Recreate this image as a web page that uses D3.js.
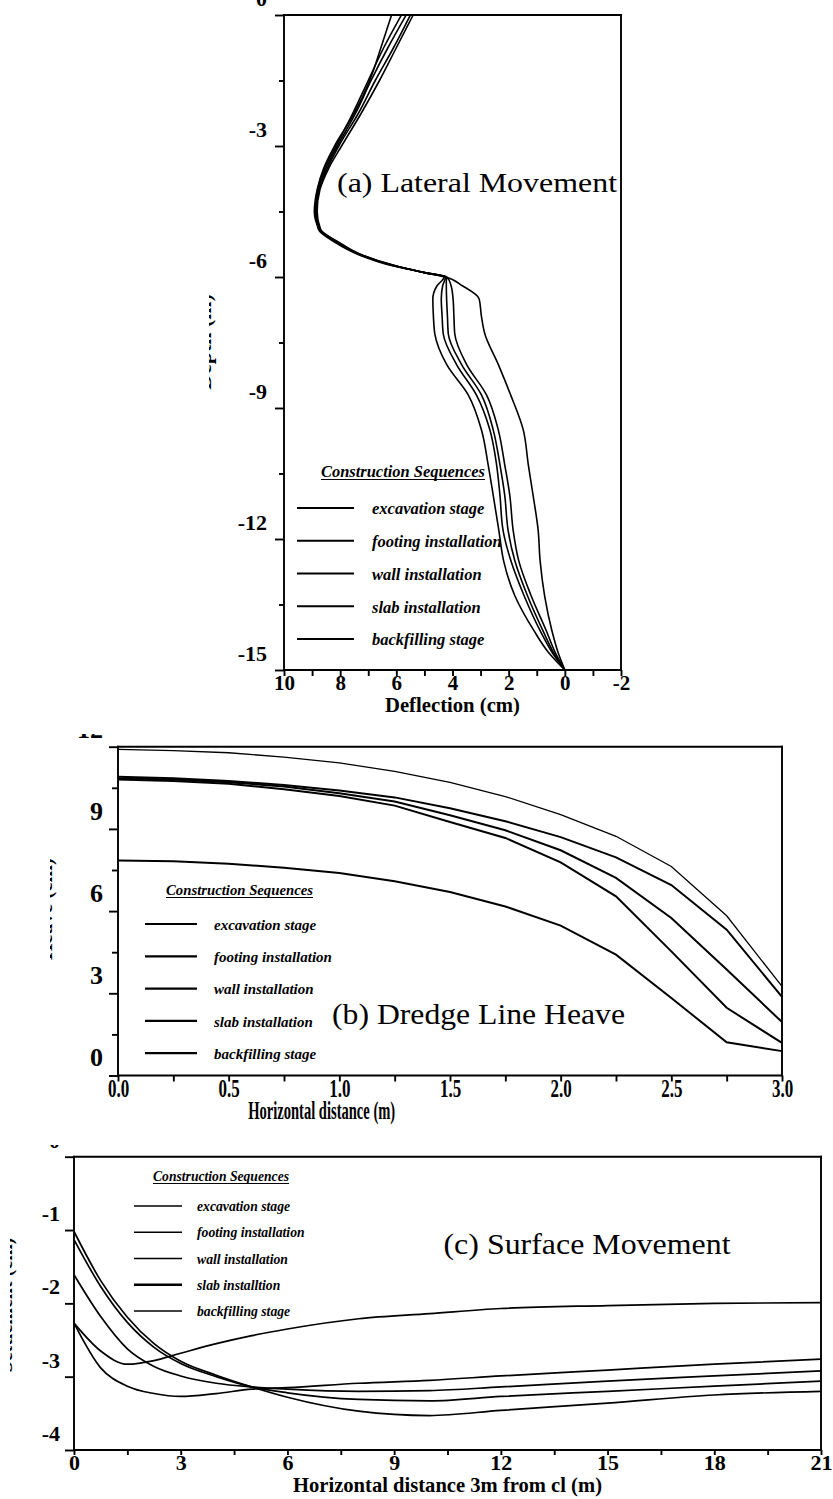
<!DOCTYPE html>
<html><head><meta charset="utf-8">
<script src="https://cdn.jsdelivr.net/npm/d3@7"></script>
<style>
body{margin:0;background:#fff}
svg{display:block}
text{font-family:"Liberation Serif","Times New Roman",Times,serif;fill:#000}
</style>
</head><body>
<svg id="chart" width="833" height="1499"></svg>
<script>
// ---------------- DATA ----------------
const stageNames = ["excavation stage","footing installation","wall installation","slab installation","backfilling stage"];
const stageNamesC = ["excavation stage","footing installation","wall installation","slab installtion","backfilling stage"];

// (a) Lateral movement: depth (m) vs deflection (cm)
const depthA = [0,-0.75,-1.5,-2.25,-3,-3.5,-4,-4.5,-4.9,-5.2,-5.5,-5.75,-5.9,-6.0,-6.2,-6.5,-6.9,-7.3,-8.0,-8.7,-9.5,-10.3,-11.0,-11.8,-12.5,-13.3,-14.1,-14.6,-15];
const latExcavation = [5.40,6.00,6.60,7.25,7.95,8.40,8.72,8.82,8.70,8.10,7.20,6.00,5.00,4.25,3.65,3.05,2.97,2.85,2.37,1.93,1.48,1.30,1.13,0.95,0.88,0.72,0.46,0.24,0];
const latFooting    = [5.50,6.10,6.75,7.35,8.05,8.45,8.75,8.85,8.75,8.15,7.25,6.05,5.00,4.25,4.35,4.40,4.37,4.33,3.86,3.15,2.67,2.43,2.31,2.20,1.92,1.45,0.88,0.45,0];
const latWall       = [5.65,6.30,6.90,7.45,8.10,8.50,8.78,8.85,8.75,8.15,7.25,6.05,5.00,4.22,4.22,4.21,4.18,4.15,3.68,2.97,2.55,2.31,2.14,2.02,1.78,1.33,0.78,0.40,0];
const latSlab       = [5.82,6.45,7.00,7.55,8.15,8.55,8.80,8.88,8.78,8.20,7.30,6.10,5.00,4.20,4.05,3.98,3.95,3.92,3.50,2.79,2.37,2.14,1.96,1.84,1.64,1.20,0.66,0.34,0];
const latBackfill   = [6.17,6.55,6.95,7.50,8.20,8.58,8.82,8.92,8.75,8.05,7.20,6.00,5.00,4.30,4.55,4.70,4.68,4.63,4.21,3.44,2.97,2.73,2.55,2.35,2.18,1.78,1.10,0.58,0];
const xTicksA = [10,9,8,7,6,5,4,3,2,1,0,-1,-2];
const xLabelsA = [10,8,6,4,2,0,-2];
const yTicksA = [0,-1.5,-3,-4.5,-6,-7.5,-9,-10.5,-12,-13.5,-15];
const yLabelsA = [0,-3,-6,-9,-12,-15];

// (b) Dredge line heave: heave vs horizontal distance (m)
const distB = [0,0.25,0.5,0.75,1.0,1.25,1.5,1.75,2.0,2.25,2.5,2.75,3.0];
const heaveTop    = [11.90,11.86,11.78,11.62,11.41,11.10,10.70,10.18,9.52,8.73,7.63,5.83,3.25];
const heave2      = [10.90,10.85,10.75,10.60,10.40,10.15,9.75,9.28,8.70,7.96,6.95,5.32,2.87];
const heave3      = [10.85,10.80,10.70,10.55,10.30,10.00,9.50,8.95,8.22,7.21,5.75,3.87,1.95];
const heave4      = [10.80,10.75,10.65,10.45,10.20,9.85,9.25,8.67,7.78,6.54,4.53,2.47,1.19];
const heaveBottom = [7.85,7.82,7.73,7.58,7.39,7.09,6.70,6.17,5.47,4.41,2.83,1.21,0.89];
const xTicksB = [0,0.25,0.5,0.75,1,1.25,1.5,1.75,2,2.25,2.5,2.75,3];
const xLabelsB = [0,0.5,1,1.5,2,2.5,3];
const yTicksB = [0,1.5,3,4.5,6,7.5,9,10.5,12];
const yLabelsB = [0,3,6,9,12];

// (c) Surface movement: settlement vs horizontal distance 3m from cl (m)
const distC = [0,0.75,1.5,2.25,3,4,5,6,8,10,12,15,18,21];
const surfP = [-2.27,-2.65,-2.83,-2.78,-2.68,-2.55,-2.44,-2.35,-2.21,-2.14,-2.07,-2.03,-2.00,-1.99];
const surfQ = [-2.27,-2.88,-3.13,-3.23,-3.27,-3.23,-3.17,-3.15,-3.09,-3.05,-2.99,-2.91,-2.83,-2.76];
const surfR = [-1.61,-2.18,-2.62,-2.86,-2.99,-3.09,-3.14,-3.17,-3.20,-3.19,-3.14,-3.06,-2.99,-2.92];
const surfS = [-1.13,-1.77,-2.26,-2.60,-2.82,-3.00,-3.14,-3.22,-3.31,-3.33,-3.27,-3.20,-3.13,-3.06];
const surfT = [-1.02,-1.69,-2.19,-2.55,-2.79,-2.98,-3.14,-3.28,-3.47,-3.53,-3.46,-3.36,-3.25,-3.20];
const xTicksC = [0,1.5,3,4.5,6,7.5,9,10.5,12,13.5,15,16.5,18,19.5,21];
const xLabelsC = [0,3,6,9,12,15,18,21];
const yTicksC = [0,-1,-2,-3,-4];
const yLabelsC = [0,-1,-2,-3,-4];

// ---------------- DRAWING ----------------
const FONT = '"Liberation Serif","Times New Roman",Times,serif';
const svg = d3.select("#chart");
const defs = svg.append("defs");
const has = (arr, d) => arr.some(v => Math.abs(v - d) < 1e-9);
const AX = 1.9;

function clipGroup(id, x, y, w, h) {
  defs.append("clipPath").attr("id", id).append("rect").attr("x", x).attr("y", y).attr("width", w).attr("height", h);
  return svg.append("g").attr("clip-path", `url(#${id})`);
}

function frame(g, x0, x1, y0, y1) {
  [[x0,y0,x1,y0],[x1,y0,x1,y1],[x0,y1,x1,y1],[x0,y0,x0,y1]].forEach(l =>
    g.append("line").attr("x1",l[0]).attr("y1",l[1]).attr("x2",l[2]).attr("y2",l[3])
      .attr("stroke","#000").attr("stroke-width",AX).attr("stroke-linecap","square"));
}

function leftAxis(g, y, x0, ticks, labels, o) {
  const a = g.append("g").attr("transform",`translate(${x0},0)`)
    .call(d3.axisLeft(y).tickValues(ticks).tickSize(o.major).tickPadding(o.pad)
      .tickFormat(d => has(labels,d) ? (o.fmt ? o.fmt(d) : String(d)) : ""));
  a.attr("font-family", null);
  a.select(".domain").remove();
  a.selectAll(".tick line").attr("x2", d => has(labels,d) ? -o.major : -o.minor).attr("stroke-width", AX);
  a.selectAll(".tick text").attr("dy", null).attr("y", o.dy)
    .style("font-family", FONT).style("font-size", o.fs + "px").style("font-weight", "bold");
  return a;
}

function bottomAxis(g, x, y0, ticks, labels, o) {
  const a = g.append("g").attr("transform",`translate(0,${y0})`)
    .call(d3.axisBottom(x).tickValues(ticks).tickSize(o.tick)
      .tickFormat(d => has(labels,d) ? (o.fmt ? o.fmt(d) : String(d)) : ""));
  a.attr("font-family", null);
  a.select(".domain").remove();
  a.selectAll(".tick line").attr("stroke-width", AX);
  a.selectAll(".tick text").attr("dy", null).attr("y", o.base)
    .attr("transform", o.sx ? `scale(${o.sx},1)` : null)
    .style("font-family", FONT).style("font-size", o.fs + "px").style("font-weight", "bold");
  return a;
}

function legend(g, names, o) {
  g.append("text").attr("x", o.tx).attr("y", o.ty)
    .attr("textLength", o.tw).attr("lengthAdjust","spacingAndGlyphs")
    .style("font-size", o.tfs + "px").style("font-weight","bold").style("font-style","italic")
    .text("Construction Sequences");
  g.append("line").attr("x1", o.tx).attr("x2", o.tx + o.tw).attr("y1", o.ty + 2.5).attr("y2", o.ty + 2.5)
    .attr("stroke","#000").attr("stroke-width",1);
  names.forEach((n, i) => {
    const ry = o.r0 + i * o.step;
    g.append("line").attr("x1", o.lx0).attr("x2", o.lx1).attr("y1", ry).attr("y2", ry)
      .attr("stroke","#000").attr("stroke-width", (o.lw && o.lw[i]) || 1.8);
    g.append("text").attr("x", o.tx2).attr("y", ry + o.fs * 0.38)
      .style("font-size", o.fs + "px").style("font-weight","bold").style("font-style","italic")
      .text(n);
  });
}

function yTitle(g, label, x, y, fs) {
  g.append("text").attr("transform",`translate(${x},${y}) rotate(-90)`).attr("text-anchor","middle")
    .style("font-size", fs+"px").style("font-weight","bold").text(label);
}

// ===== Panel (a) =====
{
  const g = clipGroup("clipA", 209, 0, 624, 720);
  const x = d3.scaleLinear().domain([10,-2]).range([284,621]);
  const y = d3.scaleLinear().domain([0,-15]).range([15,670]);
  yTitle(g, "Depth (m)", 211, 342, 22);
  const line = d3.line().x(d => x(d[0])).y(d => y(d[1])).curve(d3.curveMonotoneY);
  [latExcavation, latFooting, latWall, latSlab, latBackfill].forEach(s => {
    g.append("path").datum(s.map((v,i) => [v, depthA[i]])).attr("d", line)
      .attr("fill","none").attr("stroke","#000").attr("stroke-width",1.6);
  });
  frame(g, 284, 621, 15, 670);
  leftAxis(g, y, 284, yTicksA, yLabelsA, {major:9, minor:5, pad:8, dy:-9.5, fs:22});
  bottomAxis(g, x, 670, xTicksA, xLabelsA, {tick:6, base:20, fs:21});
  g.append("text").attr("x", 452.5).attr("y", 711.5).attr("text-anchor","middle")
    .attr("textLength",135).attr("lengthAdjust","spacingAndGlyphs")
    .style("font-size","22px").style("font-weight","bold").text("Deflection (cm)");
  g.append("text").attr("x", 337).attr("y", 191.5).attr("textLength",280).attr("lengthAdjust","spacingAndGlyphs")
    .style("font-size","28px").text("(a) Lateral Movement");
  legend(g, stageNames, {tx:321, ty:477, tw:164, tfs:16.5, lx0:297, lx1:354, tx2:372, r0:508, step:32.75, fs:16.5});
}

// ===== Panel (b) =====
{
  const g = clipGroup("clipB", 50, 734, 783, 394);
  const x = d3.scaleLinear().domain([0,3]).range([118,782]);
  const y = d3.scaleLinear().domain([0,12]).range([1075.5,746.7]);
  yTitle(g, "Heave (cm)", 52, 909, 21);
  const line = d3.line().x(d => x(d[0])).y(d => y(d[1]));
  [heaveTop, heave2, heave3, heave4, heaveBottom].forEach((s, k) => {
    g.append("path").datum(s.map((v,i) => [distB[i], v])).attr("d", line)
      .attr("fill","none").attr("stroke","#000").attr("stroke-width", k === 0 ? 1.3 : 2);
  });
  frame(g, 118, 782, 746.7, 1075.5);
  leftAxis(g, y, 118, yTicksB, yLabelsB, {major:9, minor:6, pad:6, dy:-9.7, fs:26});
  bottomAxis(g, x, 1075.5, xTicksB, xLabelsB, {tick:6, base:21, fs:25, sx:0.68, fmt:d3.format(".1f")});
  g.append("text").attr("x", 321.7).attr("y", 1119).attr("text-anchor","middle")
    .attr("textLength",147).attr("lengthAdjust","spacingAndGlyphs")
    .style("font-size","25px").style("font-weight","bold").text("Horizontal distance (m)");
  g.append("text").attr("x", 332).attr("y", 1024).attr("textLength",293).attr("lengthAdjust","spacingAndGlyphs")
    .style("font-size","29px").text("(b) Dredge Line Heave");
  legend(g, stageNames, {tx:166, ty:895, tw:147, tfs:14.8, lx0:145, lx1:197, tx2:214, r0:924, step:32.3, fs:15, lw:[1.8,2.2,2.2,2.2,2.2]});
}

// ===== Panel (c) =====
{
  const g = clipGroup("clipC", 10, 1145, 823, 354);
  const x = d3.scaleLinear().domain([0,21]).range([74,821]);
  const y = d3.scaleLinear().domain([0,-4]).range([1156.7,1450]);
  yTitle(g, "Settlement (cm)", 12, 1305, 20);
  const line = d3.line().x(d => x(d[0])).y(d => y(d[1])).curve(d3.curveMonotoneX);
  [surfP, surfQ, surfR, surfS, surfT].forEach(s => {
    g.append("path").datum(s.map((v,i) => [distC[i], v])).attr("d", line)
      .attr("fill","none").attr("stroke","#000").attr("stroke-width",1.7);
  });
  frame(g, 74, 821, 1156.7, 1450);
  leftAxis(g, y, 74, yTicksC, yLabelsC, {major:9, minor:9, pad:5, dy:-9.5, fs:22});
  bottomAxis(g, x, 1450, xTicksC, xLabelsC, {tick:5, base:20, fs:22});
  g.append("text").attr("x", 447.5).attr("y", 1491.5).attr("text-anchor","middle")
    .attr("textLength",309).attr("lengthAdjust","spacingAndGlyphs")
    .style("font-size","22px").style("font-weight","bold").text("Horizontal distance 3m from cl (m)");
  g.append("text").attr("x", 443.5).attr("y", 1254).attr("textLength",287).attr("lengthAdjust","spacingAndGlyphs")
    .style("font-size","29px").text("(c) Surface Movement");
  legend(g, stageNamesC, {tx:153, ty:1181, tw:136, tfs:13.6, lx0:134, lx1:182, tx2:197, r0:1206, step:26.25, fs:13.7, lw:[1.5,1.7,1.7,2.6,1.7]});
}
</script>
</body></html>
